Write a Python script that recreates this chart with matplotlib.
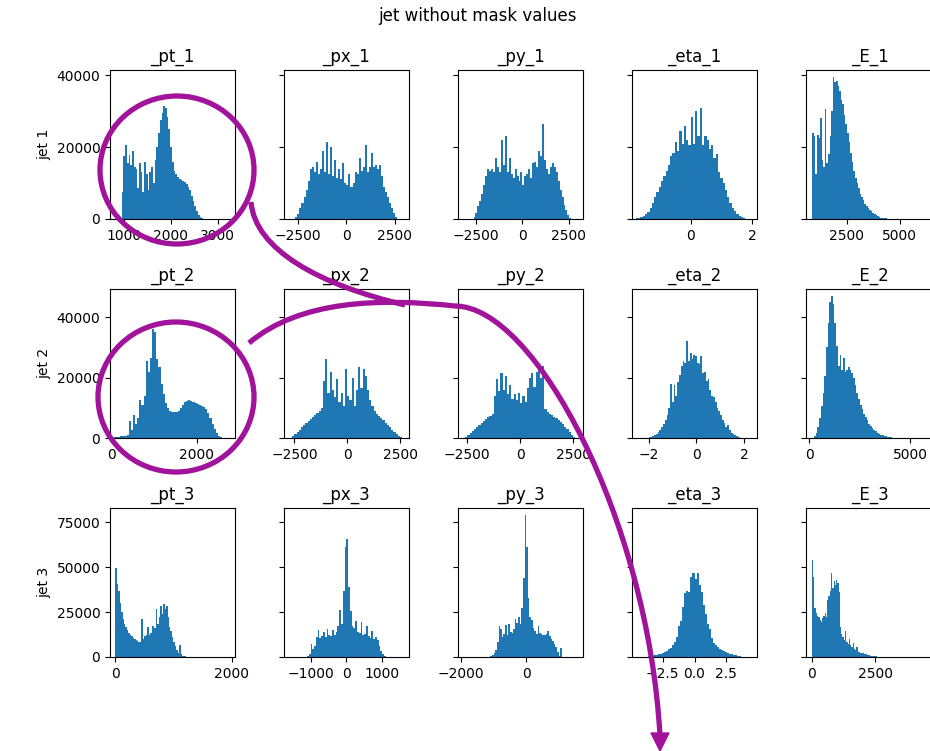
import numpy as np
import matplotlib.pyplot as plt
from matplotlib.patches import Ellipse, PathPatch, Polygon
from matplotlib.path import Path

variables = ['_pt', '_px', '_py', '_eta', '_E']
jets = ['jet 1', 'jet 2', 'jet 3']

# bin counts (thousands of entries) and the span of the bins
pt_1 = [7.6, 17.5, 20.5, 15.5, 17.8, 15.0, 18.8, 14.5, 13.8, 8.5,
        15.5, 13.2, 7.5, 15.8, 12.5, 8.2, 13.0, 14.5, 10.0, 16.5,
        20.0, 24.0, 27.5, 29.5, 31.5, 31.0, 28.5, 25.0, 20.0, 16.0,
        13.5, 12.5, 11.8, 11.2, 10.8, 10.5, 10.2, 9.8, 9.0, 8.0,
        6.5, 5.0, 3.5, 2.2, 1.2, 0.6, 0.3, 0.1]
pt_1_span = (950, 2726)
px_1 = [0.5, 1.5, 3.0, 4.5, 6.0, 8.0, 10.5, 14.0, 14.5, 13.0,
        16.0, 12.5, 14.0, 19.0, 13.0, 21.5, 12.5, 20.0, 12.0, 16.5,
        11.5, 14.0, 11.0, 15.5, 10.0, 9.5, 12.5, 9.0, 10.0, 13.0,
        12.5, 17.0, 13.5, 14.5, 20.5, 13.0, 14.5, 18.5, 14.5, 15.0,
        14.0, 15.0, 12.0, 9.0, 7.5, 6.0, 4.5, 3.0, 1.8, 0.5]
px_1_span = (-2650, 2650)
py_1 = [0.5, 1.8, 3.5, 5.0, 7.0, 9.5, 12.0, 14.0, 13.5, 14.0,
        13.0, 17.0, 14.5, 13.0, 22.0, 15.0, 23.0, 13.0, 17.0, 12.5,
        11.5, 14.0, 12.0, 10.5, 13.0, 9.5, 12.0, 12.5, 14.0, 11.5,
        15.5, 16.0, 14.5, 19.0, 17.5, 26.5, 16.5, 14.0, 12.5, 14.5,
        15.5, 14.5, 13.0, 10.5, 8.0, 6.0, 4.0, 2.5, 1.2, 0.4]
py_1_span = (-2650, 2650)
eta_1 = [0.1, 0.2, 0.3, 0.5, 0.8, 1.3, 2.0, 3.0, 4.5, 6.0,
         7.5, 9.0, 10.5, 12.0, 13.5, 15.0, 17.5, 18.5, 21.5, 19.0,
         24.5, 21.0, 26.0, 22.0, 20.5, 28.5, 21.0, 30.0, 23.0, 31.0,
         20.5, 23.0, 22.0, 19.5, 20.5, 17.0, 18.0, 13.0, 11.5, 10.0,
         8.0, 6.0, 4.5, 3.2, 2.2, 1.5, 0.9, 0.5, 0.3, 0.1]
eta_1_span = (-1.85, 1.85)
E_1 = [24.0, 23.0, 12.5, 23.5, 22.5, 28.0, 16.5, 14.5, 30.5, 15.5,
       18.0, 23.0, 30.0, 39.5, 38.0, 38.5, 37.0, 35.5, 33.0, 32.0,
       29.0, 26.5, 24.0, 21.5, 18.5, 16.0, 13.5, 11.5, 10.0, 8.5,
       7.0, 6.0, 5.2, 4.3, 3.6, 3.0, 2.5, 2.1, 1.7, 1.3,
       1.0, 0.8, 0.6, 0.4, 0.3, 0.2, 0.15, 0.1, 0.05, 0.05]
E_1_span = (880, 4600)

pt_2 = [0.1, 0.2, 0.3, 0.4, 0.5, 0.6, 0.8, 1.0, 5.5, 2.5,
        7.5, 4.5, 6.5, 12.5, 11.0, 14.0, 25.5, 22.0, 26.5, 36.0,
        35.0, 26.0, 23.5, 18.0, 14.5, 11.5, 9.8, 9.0, 8.6, 8.5,
        8.6, 9.0, 9.8, 10.8, 11.8, 12.3, 12.5, 12.2, 11.8, 11.5,
        11.2, 10.9, 10.6, 10.2, 9.5, 8.2, 6.5, 4.8, 3.0, 1.5,
        0.6, 0.2]
pt_2_span = (0, 2600)
px_2 = [0.5, 1.3, 2.0, 2.8, 3.5, 4.3, 5.0, 5.7, 6.2, 6.8,
        7.5, 8.3, 9.0, 10.0, 19.0, 26.0, 15.0, 22.0, 16.0, 13.5,
        19.5, 12.0, 15.0, 10.5, 23.0, 14.0, 12.5, 20.0, 10.5, 16.0,
        23.5, 16.5, 23.0, 20.5, 16.0, 12.5, 10.5, 9.0, 8.0, 7.3,
        6.5, 5.8, 5.0, 4.2, 3.5, 2.8, 2.0, 1.3, 0.7, 0.3]
px_2_span = (-2600, 2600)
py_2 = [0.4, 1.0, 1.6, 2.3, 3.0, 3.6, 4.3, 5.0, 5.7, 6.3,
        6.8, 7.3, 8.0, 14.0, 19.5, 15.5, 21.5, 16.0, 20.5, 14.5,
        17.5, 13.0, 14.5, 12.5, 15.0, 11.5, 14.0, 12.0, 16.5, 20.0,
        21.5, 17.0, 22.0, 24.5, 20.0, 24.0, 9.5, 8.5, 8.0, 7.5,
        7.0, 6.5, 6.0, 5.3, 4.6, 3.8, 3.0, 2.0, 1.0, 0.3]
py_2_span = (-2600, 2600)
eta_2 = [0.2, 0.4, 0.7, 1.0, 1.4, 1.9, 2.5, 3.5, 4.5, 6.0,
         7.5, 10.0, 18.0, 12.0, 17.5, 14.0, 18.5, 21.0, 24.0, 25.5,
         25.0, 32.0, 25.5, 28.0, 26.0, 27.5, 27.0, 25.0, 24.5, 27.0,
         21.5, 22.0, 19.0, 19.5, 16.0, 14.0, 13.5, 12.0, 10.0, 9.0,
         7.5, 6.0, 5.0, 3.8, 4.2, 2.5, 1.8, 1.3, 0.9, 0.6,
         0.3, 0.15]
eta_2_span = (-2.0, 1.9)
E_2 = [0.5, 1.5, 3.5, 6.5, 10.5, 15.0, 20.5, 30.0, 38.0, 45.0,
       47.0, 44.5, 38.0, 30.5, 24.0, 27.5, 22.5, 26.5, 22.0, 22.5,
       23.5, 22.5, 21.5, 20.0, 17.5, 15.0, 13.0, 11.0, 9.5, 8.0,
       6.8, 5.8, 4.8, 4.0, 3.3, 2.7, 2.2, 1.8, 1.4, 1.1,
       0.9, 0.7, 0.5, 0.4, 0.3, 0.2, 0.15, 0.1, 0.05, 0.05]
E_2_span = (250, 4450)

pt_3 = [49.5, 40.5, 37.0, 30.0, 25.0, 21.0, 18.5, 16.5, 15.0, 13.5,
        12.5, 11.5, 10.8, 10.0, 9.5, 8.8, 8.5, 8.5, 21.0, 10.0,
        11.5, 12.5, 16.5, 12.5, 13.5, 17.0, 17.5, 16.0, 27.0, 18.5,
        22.0, 28.5, 24.0, 29.5, 27.0, 28.5, 22.0, 16.5, 14.5, 11.0,
        8.5, 6.0, 4.0, 2.5, 6.5, 1.5, 0.8, 0.5, 0.3, 0.2,
        0.1, 0.1]
pt_3_span = (0, 1300)
px_3 = [0.5, 1.5, 7.0, 4.5, 6.0, 11.0, 15.0, 10.5, 11.5, 14.0,
        11.0, 15.5, 12.0, 11.5, 15.0, 12.5, 14.0, 17.5, 26.0, 18.5,
        37.0, 61.0, 65.5, 39.0, 25.5, 17.5, 16.0, 20.0, 14.0, 13.5,
        19.5, 12.5, 13.0, 17.5, 11.5, 10.5, 14.5, 10.0, 11.0, 9.5,
        6.0, 3.5, 1.5, 0.5]
px_3_span = (-1100, 1100)
py_3 = [0.5, 1.0, 2.5, 4.0, 8.5, 17.5, 15.5, 11.0, 13.0, 18.0,
        12.5, 18.5, 14.0, 13.5, 15.5, 21.0, 19.0, 22.0, 18.5, 27.5,
        44.0, 79.0, 61.0, 33.0, 22.0, 20.5, 16.0, 14.5, 13.0, 17.0,
        13.5, 13.0, 12.5, 12.5, 13.0, 14.5, 11.5, 10.0, 9.0, 7.0,
        5.5, 3.0, 0.8, 5.0]
py_3_span = (-1100, 1100)
eta_3 = [0.1, 0.2, 0.3, 0.5, 0.7, 0.9, 1.2, 1.5, 1.9, 2.4,
         2.9, 3.4, 4.2, 5.2, 6.5, 8.5, 11.0, 17.5, 20.0, 28.0,
         35.5, 37.0, 36.0, 44.5, 47.0, 43.5, 47.0, 40.0, 36.0, 29.0,
         24.0, 18.5, 15.5, 10.5, 8.0, 6.5, 5.3, 4.4, 3.7, 3.1,
         2.6, 2.2, 1.8, 1.5, 1.2, 0.9, 0.6, 0.4, 0.2, 0.1]
eta_3_span = (-4.0, 4.0)
E_3 = [54.0, 44.5, 27.5, 24.5, 23.0, 22.0, 20.5, 19.5, 21.5, 23.0,
       24.5, 22.5, 31.5, 34.0, 36.5, 46.5, 38.5, 42.5, 40.0, 43.0,
       41.0, 36.0, 16.5, 13.0, 11.0, 9.5, 14.5, 8.5, 7.5, 10.0,
       6.5, 5.5, 8.0, 4.5, 4.0, 5.5, 3.0, 2.6, 2.4, 2.2,
       2.0, 1.7, 1.5, 1.3, 1.2, 1.0, 0.8, 0.6, 0.5, 0.4,
       0.3, 0.2]
E_3_span = (0, 2600)

counts = [[pt_1, px_1, py_1, eta_1, E_1],
          [pt_2, px_2, py_2, eta_2, E_2],
          [pt_3, px_3, py_3, eta_3, E_3]]
spans = [[pt_1_span, px_1_span, py_1_span, eta_1_span, E_1_span],
         [pt_2_span, px_2_span, py_2_span, eta_2_span, E_2_span],
         [pt_3_span, px_3_span, py_3_span, eta_3_span, E_3_span]]

# axis limits and ticks per panel
xlims = [[(700, 3370), (-3240, 3250), (-3490, 3280), (-1.9, 2.15), (590, 6600)],
         [(-40, 2900), (-2990, 2925), (-2940, 2970), (-2.7, 2.55), (-150, 6190)],
         [(-90, 2060), (-1740, 1750), (-2100, 1750), (-4.9, 4.9), (-234, 4805)]]
xticks = [[[1000, 2000, 3000], [-2500, 0, 2500], [-2500, 0, 2500], [0, 2], [2500, 5000]],
          [[0, 2000], [-2500, 0, 2500], [-2500, 0, 2500], [-2, 0, 2], [0, 5000]],
          [[0, 2000], [-1000, 0, 1000], [-2000, 0], [-2.5, 0.0, 2.5], [0, 2500]]]
yticks = [[0, 20000, 40000], [0, 20000, 40000], [0, 25000, 50000, 75000]]

W, H = 930, 751
fig = plt.figure(figsize=(W / 100, H / 100), dpi=100)

lefts = [110, 284, 458, 632, 806]
widths = [125, 125, 125, 125, 128]
tops = [70, 289, 508]
ah = 149

for r in range(3):
    first = None
    for c in range(5):
        ax = fig.add_axes([lefts[c] / W, 1 - (tops[r] + ah) / H, widths[c] / W, ah / H],
                          sharey=first)
        vals = np.array(counts[r][c]) * 1000
        edges = np.linspace(spans[r][c][0], spans[r][c][1], len(vals) + 1)
        ax.hist(edges[:-1], bins=edges, weights=vals, color='#1f77b4')
        ax.set_xlim(xlims[r][c])
        ax.set_xticks(xticks[r][c])
        ax.set_title(f'{variables[c]}_{r + 1}')
        if first is None:
            first = ax
            ax.set_yticks(yticks[r])
            ax.set_ylabel(jets[r])
        else:
            ax.tick_params(labelleft=False)

fig.suptitle('jet without mask values', x=477 / W, y=1 - 16 / H, va='center')

# hand-drawn highlight on top, in pixel units
over = fig.add_axes([0, 0, 1, 1], zorder=10)
over.set_xlim(0, W)
over.set_ylim(H, 0)
over.axis('off')
over.patch.set_alpha(0)

pen = '#a0139a'
lw = 3.8
over.add_patch(Ellipse((177, 170), 154, 148, fill=False, ec=pen, lw=lw))
over.add_patch(Ellipse((176, 397), 156, 150, fill=False, ec=pen, lw=lw))

stroke_a = Path([(251, 202), (255, 250), (320, 285), (405, 305)],
                [Path.MOVETO, Path.CURVE4, Path.CURVE4, Path.CURVE4])
stroke_b = Path([(249, 343), (300, 300), (380, 298), (455, 306),
                 (535, 306), (648, 520), (660, 736)],
                [Path.MOVETO, Path.CURVE4, Path.CURVE4, Path.CURVE4,
                 Path.CURVE4, Path.CURVE4, Path.CURVE4])
for p in (stroke_a, stroke_b):
    over.add_patch(PathPatch(p, fill=False, ec=pen, lw=lw, capstyle='butt'))
over.add_patch(Polygon([(651, 733), (669, 733), (660, 751)], closed=True,
                       fc=pen, ec=pen, lw=1))

fig.savefig('out.png', dpi=100)
